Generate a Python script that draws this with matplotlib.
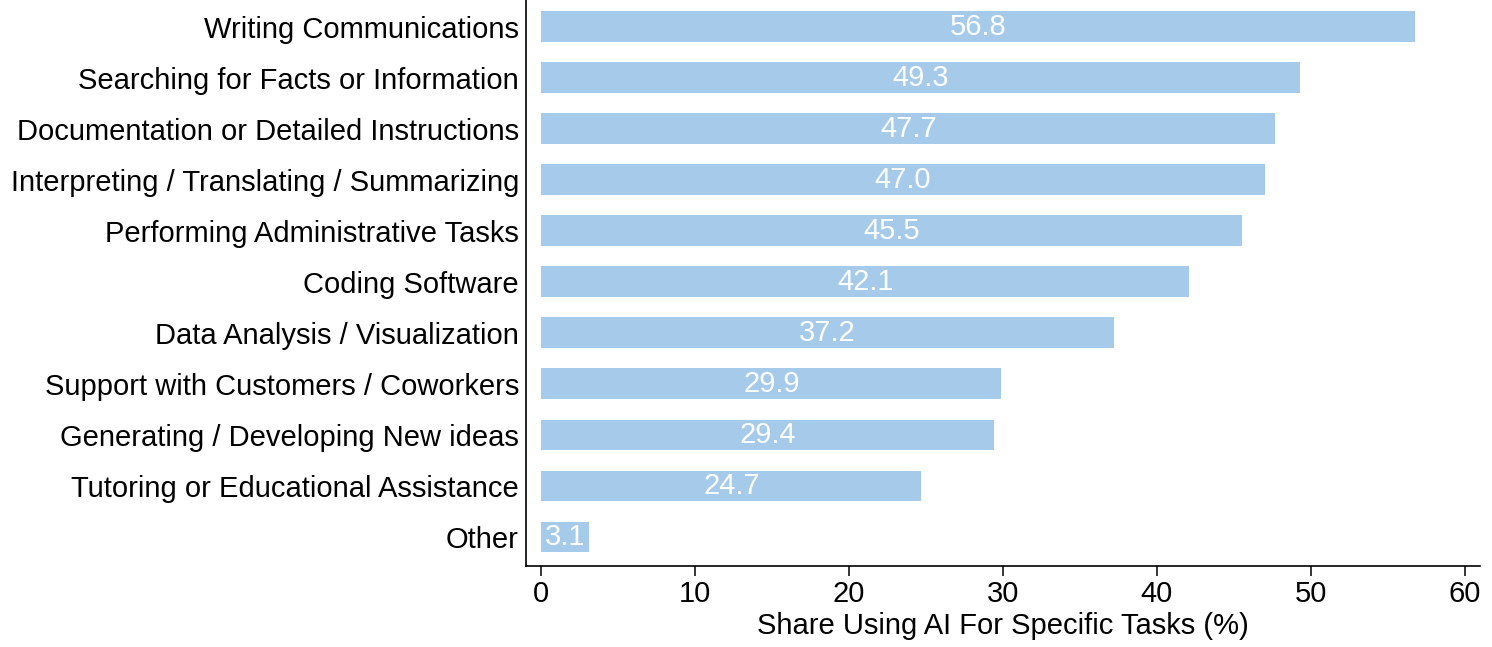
import matplotlib
matplotlib.use('Agg')
import matplotlib.pyplot as plt

plt.rcParams['font.family'] = ['Liberation Sans', 'DejaVu Sans']

tasks = ['Writing Communications', 'Searching for Facts or Information',
         'Documentation or Detailed Instructions', 'Interpreting / Translating / Summarizing',
         'Performing Administrative Tasks', 'Coding Software', 'Data Analysis / Visualization',
         'Support with Customers / Coworkers', 'Generating / Developing New ideas',
         'Tutoring or Educational Assistance', 'Other']
shares = [56.8, 49.3, 47.7, 47.0, 45.5, 42.1, 37.2, 29.9, 29.4, 24.7, 3.1]

fig = plt.figure(figsize=(14.92, 6.47), dpi=100)
ax = fig.add_axes([0.3525, 0.1252, 0.6395, 0.8748])

ypos = list(range(len(tasks)))
ax.barh(ypos, shares, height=0.6, color='#a6cbea')
for y, v in zip(ypos, shares):
    ax.text(v / 2, y, f'{v:.1f}', ha='center', va='center', color='white', fontsize=21)

ax.set_yticks(ypos)
ax.set_yticklabels(tasks, fontsize=21)
ax.tick_params(axis='y', length=0, pad=5)
ax.set_ylim(len(tasks) - 1 + 0.57, -0.52)
ax.set_xlim(-1, 61)
ax.set_xticks([0, 10, 20, 30, 40, 50, 60])
ax.tick_params(axis='x', labelsize=21, length=7, width=1.1, pad=3)
ax.set_xlabel('Share Using AI For Specific Tasks (%)', fontsize=21, labelpad=3)

for s in ['top', 'right']:
    ax.spines[s].set_visible(False)
for s in ['left', 'bottom']:
    ax.spines[s].set_linewidth(1.2)

fig.savefig('out.png', dpi=100)
